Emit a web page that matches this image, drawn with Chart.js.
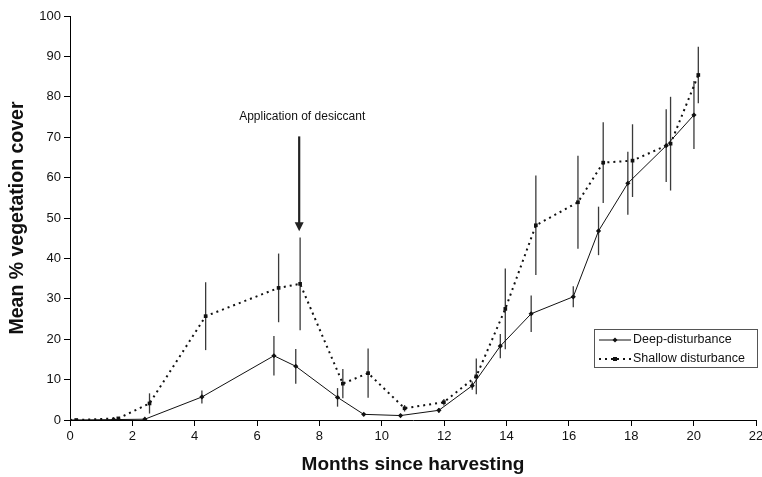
<!DOCTYPE html>
<html>
<head>
<meta charset="utf-8">
<script src="https://cdn.jsdelivr.net/npm/chart.js@4/dist/chart.umd.min.js"></script>
<style>
  body { margin: 0; background: #fff; }
  #wrap { width: 762px; height: 477px; }
</style>
</head>
<body>
<div id="wrap"><canvas id="coverChart" width="762" height="477"></canvas></div>
<script>
// Deep-disturbance plots
const deepMonths = [0, 1.4, 2.4, 4.23, 6.54, 7.24, 8.58, 9.42, 10.6, 11.83, 12.9, 13.8, 14.79, 16.14, 16.95, 17.89, 19.12, 20.01];
const deepCover  = [0, 0.1, 0.2, 5.7, 15.9, 13.3, 5.6, 1.4, 1.1, 2.4, 8.5, 18.3, 26.3, 30.5, 46.8, 58.6, 67.9, 75.5];
const deepErr    = [0, 0, 0, 1.6, 4.9, 4.3, 2.3, 0.3, 0.3, 0.6, 1, 3, 4.5, 2.6, 6, 7.8, 9, 8.4];

// Shallow disturbance plots
const shallowMonths = [0.2, 1.55, 2.55, 4.35, 6.69, 7.38, 8.75, 9.56, 10.73, 11.99, 13.03, 13.96, 14.94, 16.29, 17.1, 18.04, 19.26, 20.15];
const shallowCover  = [0, 0.4, 4.1, 25.7, 32.7, 33.7, 9.0, 11.6, 2.9, 4.4, 10.8, 27.5, 48.2, 53.9, 63.7, 64.2, 68.4, 85.4];
const shallowErr    = [0, 0, 2.5, 8.4, 8.5, 11.5, 3.6, 6.1, 0.8, 0.8, 4.4, 10, 12.3, 11.5, 10, 9, 11.6, 7];

// Eixos
const xTicks = [0, 2, 4, 6, 8, 10, 12, 14, 16, 18, 20, 22];
const yTicks = [0, 10, 20, 30, 40, 50, 60, 70, 80, 90, 100];

// Seta da aplicação do dessecante
const arrowLabel = "Application of desiccant";
const arrowMonth = 7.35;
const arrowFrom = 70.2;
const arrowTo = 46.7;
const arrowLabelAt = 75.2;

const FONT = "Arial, 'Liberation Sans', sans-serif";

function toPoints(xs, ys) {
  return xs.map((x, i) => ({ x, y: ys[i] }));
}

// Barras de erro verticais
const errorBars = {
  id: "errorBars",
  beforeDatasetsDraw(chart) {
    const { ctx, scales: { x, y } } = chart;
    const sets = [[deepMonths, deepCover, deepErr], [shallowMonths, shallowCover, shallowErr]];
    ctx.save();
    ctx.strokeStyle = "#3a3a3a";
    ctx.lineWidth = 1.3;
    sets.forEach(([ms, vs, es]) => {
      ms.forEach((m, i) => {
        if (!es[i]) return;
        const px = x.getPixelForValue(m);
        ctx.beginPath();
        ctx.moveTo(px, y.getPixelForValue(vs[i] + es[i]));
        ctx.lineTo(px, y.getPixelForValue(vs[i] - es[i]));
        ctx.stroke();
      });
    });
    ctx.restore();
  }
};

// Anotação + legenda
const extras = {
  id: "extras",
  afterDraw(chart) {
    const { ctx, scales: { x, y } } = chart;
    ctx.save();

    // seta
    const ax = x.getPixelForValue(arrowMonth);
    const top = y.getPixelForValue(arrowFrom);
    const tip = y.getPixelForValue(arrowTo);
    ctx.strokeStyle = "#222";
    ctx.fillStyle = "#222";
    ctx.lineWidth = 2.2;
    ctx.beginPath();
    ctx.moveTo(ax, top);
    ctx.lineTo(ax, tip - 8);
    ctx.stroke();
    ctx.beginPath();
    ctx.moveTo(ax - 4.5, tip - 9);
    ctx.lineTo(ax + 4.5, tip - 9);
    ctx.lineTo(ax, tip);
    ctx.closePath();
    ctx.fill();

    ctx.font = "12px " + FONT;
    ctx.textAlign = "center";
    ctx.textBaseline = "middle";
    ctx.fillStyle = "#111";
    ctx.fillText(arrowLabel, ax + 3, y.getPixelForValue(arrowLabelAt));

    // legenda
    const bx = 594.5, by = 329.5, bw = 163, bh = 38;
    ctx.strokeStyle = "#555";
    ctx.lineWidth = 1;
    ctx.strokeRect(bx, by, bw, bh);

    ctx.strokeStyle = "#111";
    ctx.fillStyle = "#111";
    ctx.beginPath();
    ctx.moveTo(599, 340);
    ctx.lineTo(631, 340);
    ctx.stroke();
    ctx.beginPath();
    ctx.moveTo(615, 337.5);
    ctx.lineTo(617.5, 340);
    ctx.lineTo(615, 342.5);
    ctx.lineTo(612.5, 340);
    ctx.closePath();
    ctx.fill();

    ctx.lineWidth = 2;
    ctx.setLineDash([2, 4]);
    ctx.beginPath();
    ctx.moveTo(599, 359);
    ctx.lineTo(631, 359);
    ctx.stroke();
    ctx.setLineDash([]);
    ctx.fillRect(613, 357, 4, 4);

    ctx.font = "12.5px " + FONT;
    ctx.textAlign = "left";
    ctx.fillText("Deep-disturbance", 633, 340);
    ctx.fillText("Shallow disturbance", 633, 359);
    ctx.restore();
  }
};

const ctx = document.getElementById("coverChart").getContext("2d");
new Chart(ctx, {
  type: "scatter",
  data: {
    datasets: [
      {
        label: "Deep-disturbance",
        data: toPoints(deepMonths, deepCover),
        showLine: true,
        borderColor: "#111",
        borderWidth: 1,
        backgroundColor: "#111",
        pointStyle: "rectRot",
        pointRadius: 2.6,
        pointBorderWidth: 0
      },
      {
        label: "Shallow disturbance",
        data: toPoints(shallowMonths, shallowCover),
        showLine: true,
        borderColor: "#111",
        borderWidth: 2,
        borderDash: [2, 4],
        backgroundColor: "#111",
        pointStyle: "rect",
        pointRadius: 2.6,
        pointBorderWidth: 0
      }
    ]
  },
  options: {
    responsive: false,
    animation: false,
    layout: { padding: { top: 16, right: 0, left: 0, bottom: 0 } },
    plugins: { legend: { display: false }, tooltip: { enabled: false } },
    scales: {
      x: {
        type: "linear",
        min: 0,
        max: 22,
        afterBuildTicks: (s) => { s.ticks = xTicks.map(v => ({ value: v })); },
        afterFit: (s) => { s.height = 57; s.paddingLeft = 0; s.paddingRight = 6; },
        grid: { drawOnChartArea: false, drawTicks: true, tickLength: 6, color: "#000" },
        border: { color: "#000", width: 1 },
        ticks: { color: "#111", font: { family: FONT, size: 13 }, padding: 3, maxRotation: 0 },
        title: {
          display: true,
          text: "Months since harvesting",
          color: "#111",
          font: { family: FONT, size: 19, weight: "bold", lineHeight: 1.2 },
          padding: { top: 0, bottom: 1 }
        }
      },
      y: {
        min: 0,
        max: 100,
        afterBuildTicks: (s) => { s.ticks = yTicks.map(v => ({ value: v })); },
        afterFit: (s) => { s.width = 70; },
        grid: { drawOnChartArea: false, drawTicks: true, tickLength: 6, color: "#000" },
        border: { color: "#000", width: 1 },
        ticks: { color: "#111", font: { family: FONT, size: 13 }, padding: 3 },
        title: {
          display: true,
          text: "Mean % vegetation cover",
          color: "#111",
          font: { family: FONT, size: 19.5, weight: "bold", lineHeight: 1.2 },
          padding: { top: 6, bottom: 0 }
        }
      }
    }
  },
  plugins: [errorBars, extras]
});
</script>
</body>
</html>
